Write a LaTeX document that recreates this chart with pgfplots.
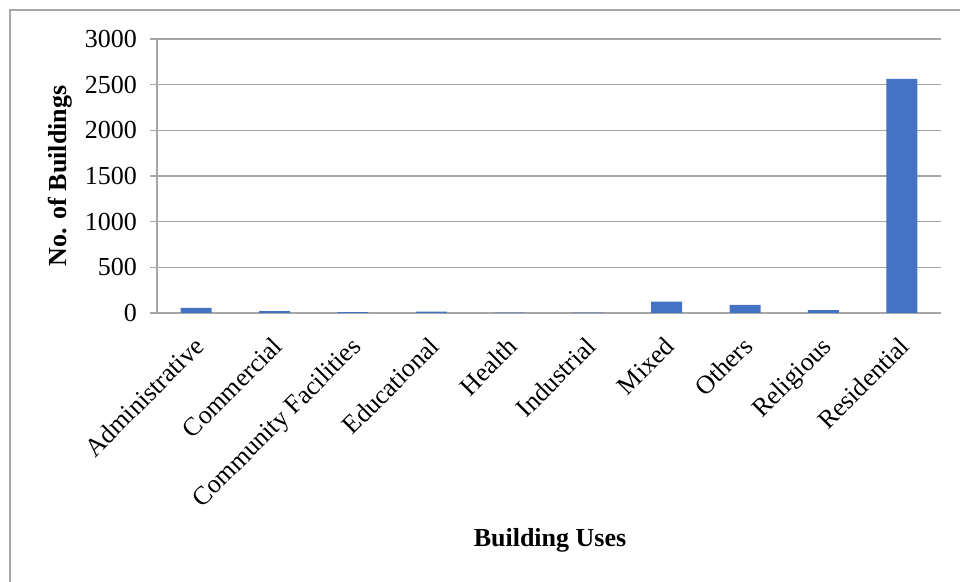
\documentclass[border=0pt]{standalone}
\usepackage{fontspec}
\setmainfont{Liberation Serif}
\usepackage{pgfplots}
\pgfplotsset{compat=1.18}
\definecolor{barblue}{RGB}{68,114,196}
\definecolor{gridgray}{RGB}{166,166,166}
\begin{document}
\begin{tikzpicture}
\useasboundingbox (0,0) rectangle (480pt,291pt);
\draw[gridgray, line width=0.6pt] (5pt,0) -- (5pt,286pt) -- (480pt,286pt);
\begin{axis}[
    at={(78.5pt,134.5pt)}, anchor=south west,
    scale only axis,
    width=392pt, height=137pt,
    xmin=-0.5, xmax=9.5,
    ymin=0, ymax=3000,
    ytick={0,500,...,3000},
    xtick={0,...,9},
    xticklabels={Administrative,Commercial,Community Facilities,Educational,Health,Industrial,Mixed,Others,Religious,Residential},
    extra x ticks={-0.5,0.5,...,9.5},
    extra x tick labels={},
    extra x tick style={major tick length=3.5pt, tick style={gridgray, line width=0.6pt}, tick align=outside},
    axis x line=bottom, axis y line=left,
    axis line style={gridgray, line width=0.6pt, -},
    x tick style={draw=none},
    y tick style={gridgray, line width=0.6pt},
    major tick length=3.5pt,
    tick align=outside,
    ymajorgrids,
    major grid style={gridgray, line width=0.6pt},
    /pgf/number format/assume math mode=true,
    /pgf/number format/1000 sep={},
    tick label style={font=\fontsize{13}{15}\selectfont},
    xticklabel style={rotate=45, anchor=north east, inner sep=1pt, xshift=-5.5pt, yshift=-3pt},
    yticklabel style={xshift=-3pt},
    ybar, bar width=15.5pt,
]
\addplot[fill=barblue, draw=none] coordinates {
    (0,55) (1,20) (2,10) (3,15) (4,5) (5,5) (6,124) (7,88) (8,30) (9,2562)
};
\end{axis}
\node[font=\fontsize{13}{15}\selectfont\bfseries] at (275pt,21pt) {Building Uses};
\node[font=\fontsize{13}{15}\selectfont\bfseries, rotate=90] at (30pt,203pt) {No. of Buildings};
\end{tikzpicture}
\end{document}
